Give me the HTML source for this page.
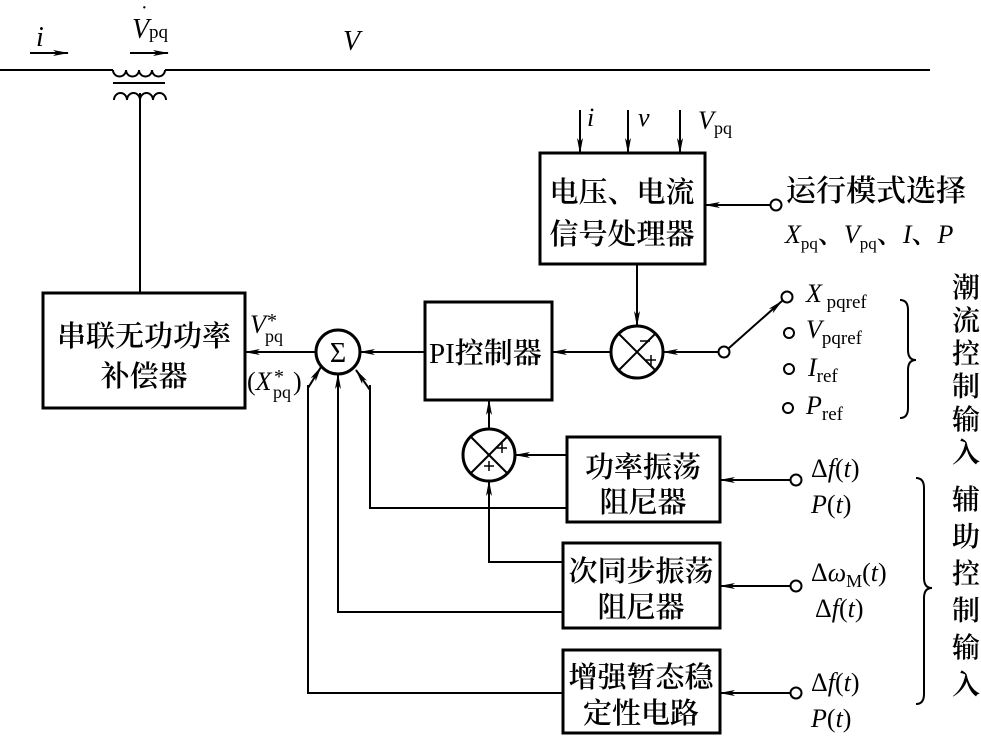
<!DOCTYPE html>
<html><head><meta charset="utf-8"><style>
html,body{margin:0;padding:0;background:#fff}
svg{display:block}
text{font-family:"Liberation Serif","Noto Serif CJK SC","Noto Sans CJK SC",serif;fill:#000}
.c{font-family:"Noto Serif CJK SC","Noto Sans CJK SC",serif;font-weight:600}
</style></head><body>
<svg width="981" height="737" viewBox="0 0 981 737" xmlns="http://www.w3.org/2000/svg">
<defs>
<marker id="a" markerWidth="16" markerHeight="8" refX="15" refY="4" orient="auto" markerUnits="userSpaceOnUse">
<path d="M0,1 L16,4 L0,7 L4,4 Z" fill="#000"/></marker>
</defs>
<g stroke="#000" stroke-width="2" fill="none">
<line x1="0" y1="70" x2="113" y2="70"/>
<line x1="165" y1="70" x2="930" y2="70"/>
<path d="M113,70 a6.5,6.5 0 0 0 13,0 a6.5,6.5 0 0 0 13,0 a6.5,6.5 0 0 0 13,0 a6.5,6.5 0 0 0 13,0"/>
<line x1="113" y1="83" x2="165" y2="83"/>
<path d="M114,100 a6.5,7 0 0 1 13,0 a6.5,7 0 0 1 13,0 a6.5,7 0 0 1 13,0 a6.5,7 0 0 1 13,0"/>
<line x1="140" y1="93" x2="140" y2="293"/>
<line x1="30" y1="53" x2="68" y2="53" marker-end="url(#a)"/>
<line x1="130" y1="53" x2="168" y2="53" marker-end="url(#a)"/>
<rect x="43" y="293" width="202" height="115" stroke-width="3"/>
<rect x="425" y="302" width="127" height="98" stroke-width="3"/>
<rect x="540" y="153" width="165" height="111" stroke-width="3"/>
<rect x="567" y="437" width="153" height="85" stroke-width="3"/>
<rect x="563" y="543" width="157" height="85" stroke-width="3"/>
<rect x="563" y="650" width="157" height="83" stroke-width="3"/>
<circle cx="338" cy="352" r="22" stroke-width="3"/>
<circle cx="637" cy="352" r="26" stroke-width="3"/>
<line x1="619" y1="334" x2="655" y2="370"/><line x1="655" y1="334" x2="619" y2="370"/>
<circle cx="489" cy="455" r="26" stroke-width="3"/>
<line x1="471" y1="437" x2="507" y2="473"/><line x1="507" y1="437" x2="471" y2="473"/>
<line x1="316" y1="352" x2="245" y2="352" marker-end="url(#a)"/>
<line x1="425" y1="352" x2="360" y2="352" marker-end="url(#a)"/>
<line x1="611" y1="352" x2="552" y2="352" marker-end="url(#a)"/>
<line x1="637" y1="264" x2="637" y2="326" marker-end="url(#a)"/>
<line x1="718" y1="352" x2="663" y2="352" marker-end="url(#a)"/>
<circle cx="724" cy="352" r="5.5"/>
<line x1="729" y1="348" x2="782" y2="301" marker-end="url(#a)"/>
<circle cx="787" cy="297" r="5.5"/>
<circle cx="789" cy="333" r="5"/>
<circle cx="789" cy="369" r="5"/>
<circle cx="788" cy="408" r="5"/>
<line x1="580" y1="110" x2="580" y2="153" marker-end="url(#a)"/>
<line x1="628" y1="110" x2="628" y2="153" marker-end="url(#a)"/>
<line x1="680" y1="110" x2="680" y2="153" marker-end="url(#a)"/>
<line x1="770" y1="205" x2="705" y2="205" marker-end="url(#a)"/>
<circle cx="776" cy="205" r="5.5"/>
<line x1="489" y1="429" x2="489" y2="400" marker-end="url(#a)"/>
<line x1="567" y1="455" x2="515" y2="455" marker-end="url(#a)"/>
<polyline points="567,508 370,508 370,385" />
<line x1="370" y1="390" x2="356" y2="370" marker-end="url(#a)"/>
<polyline points="563,562 489,562 489,481" marker-end="url(#a)"/>
<polyline points="563,612 338,612 338,374" marker-end="url(#a)"/>
<polyline points="563,693 308,693 308,385"/>
<line x1="308" y1="388" x2="321" y2="367" marker-end="url(#a)"/>
<line x1="790" y1="480" x2="720" y2="480" marker-end="url(#a)"/>
<circle cx="796" cy="480" r="5.5"/>
<line x1="790" y1="586" x2="720" y2="586" marker-end="url(#a)"/>
<circle cx="796" cy="586" r="5.5"/>
<line x1="790" y1="693" x2="720" y2="693" marker-end="url(#a)"/>
<circle cx="796" cy="693" r="5.5"/>
<path d="M900,300 q8,0 8,10 v40 q0,10 8,10 q-8,0 -8,10 v38 q0,10 -8,10"/>
<path d="M916,478 q8,0 8,10 v90 q0,10 8,10 q-8,0 -8,10 v96 q0,10 -8,10"/>
</g>
<g stroke="#000" stroke-width="1.5">
<line x1="640" y1="341" x2="650" y2="341"/>
<line x1="646" y1="360" x2="656" y2="360"/><line x1="651" y1="355" x2="651" y2="365"/>
<line x1="497" y1="448" x2="507" y2="448"/><line x1="502" y1="443" x2="502" y2="453"/>
<line x1="484" y1="466" x2="494" y2="466"/><line x1="489" y1="461" x2="489" y2="471"/>
</g>
<text x="338" y="362" font-size="28" text-anchor="middle">Σ</text>
<text x="36" y="46" font-size="28" font-style="italic">i</text>
<text x="132" y="38" font-size="28" font-style="italic">V</text><text x="149" y="38" font-size="19">pq</text>
<text x="141" y="14" font-size="20">·</text>
<text x="343" y="50" font-size="28" font-style="italic">V</text>
<g font-size="29">
<text x="144" y="346" text-anchor="middle" class="c">串联无功功率</text>
<text x="144" y="386" text-anchor="middle" class="c">补偿器</text>
<text x="622" y="202" text-anchor="middle" class="c">电压、电流</text>
<text x="622" y="244" text-anchor="middle" class="c">信号处理器</text>
<text x="643" y="477" text-anchor="middle" class="c">功率振荡</text>
<text x="643" y="512" text-anchor="middle" class="c">阻尼器</text>
<text x="641" y="581" text-anchor="middle" class="c">次同步振荡</text>
<text x="641" y="617" text-anchor="middle" class="c">阻尼器</text>
<text x="641" y="687" text-anchor="middle" class="c">增强暂态稳</text>
<text x="641" y="723" text-anchor="middle" class="c">定性电路</text>
</g>
<text x="429" y="363" font-size="29">PI<tspan class="c">控制器</tspan></text>
<text x="786" y="201" font-size="30" class="c">运行模式选择</text>
<text x="785" y="243" font-size="26"><tspan font-style="italic">X</tspan><tspan font-size="17" dy="6">pq</tspan><tspan dy="-6" class="c">、</tspan><tspan font-style="italic">V</tspan><tspan font-size="17" dy="6">pq</tspan><tspan dy="-6" class="c">、</tspan><tspan font-style="italic">I</tspan><tspan class="c">、</tspan><tspan font-style="italic">P</tspan></text>
<text x="250" y="333" font-size="26" font-style="italic">V</text><text x="265" y="342" font-size="18">pq</text><text x="267" y="327" font-size="20">*</text>
<text x="247" y="390" font-size="26">(<tspan font-style="italic">X</tspan></text><text x="273" y="398" font-size="18">pq</text><text x="274" y="383" font-size="20">*</text><text x="293" y="390" font-size="26">)</text>
<text x="587" y="126" font-size="26" font-style="italic">i</text>
<text x="638" y="126" font-size="26" font-style="italic">v</text>
<text x="698" y="129" font-size="26" font-style="italic">V</text><text x="714" y="134" font-size="18">pq</text>
<text x="806" y="302" font-size="26"><tspan font-style="italic">X</tspan><tspan font-size="19" dy="6"> pqref</tspan></text>
<text x="806" y="338" font-size="26"><tspan font-style="italic">V</tspan><tspan font-size="19" dy="6">pqref</tspan></text>
<text x="808" y="376" font-size="26"><tspan font-style="italic">I</tspan><tspan font-size="19" dy="6">ref</tspan></text>
<text x="806" y="414" font-size="26"><tspan font-style="italic">P</tspan><tspan font-size="19" dy="6">ref</tspan></text>
<text x="811" y="477" font-size="26">Δ<tspan font-style="italic">f</tspan>(<tspan font-style="italic">t</tspan>)</text>
<text x="811" y="513" font-size="26"><tspan font-style="italic">P</tspan>(<tspan font-style="italic">t</tspan>)</text>
<text x="811" y="581" font-size="26">Δ<tspan font-style="italic">ω</tspan><tspan font-size="18" dy="6">M</tspan><tspan dy="-6">(</tspan><tspan font-style="italic">t</tspan>)</text>
<text x="815" y="617" font-size="26">Δ<tspan font-style="italic">f</tspan>(<tspan font-style="italic">t</tspan>)</text>
<text x="811" y="691" font-size="26">Δ<tspan font-style="italic">f</tspan>(<tspan font-style="italic">t</tspan>)</text>
<text x="811" y="727" font-size="26"><tspan font-style="italic">P</tspan>(<tspan font-style="italic">t</tspan>)</text>
<g font-size="28" text-anchor="middle">
<text x="966" y="297" class="c">潮</text><text x="966" y="330" class="c">流</text><text x="966" y="363" class="c">控</text><text x="966" y="396" class="c">制</text><text x="966" y="429" class="c">输</text><text x="966" y="462" class="c">入</text>
<text x="966" y="509" class="c">辅</text><text x="966" y="546" class="c">助</text><text x="966" y="583" class="c">控</text><text x="966" y="620" class="c">制</text><text x="966" y="657" class="c">输</text><text x="966" y="694" class="c">入</text>
</g>
</svg>
</body></html>
